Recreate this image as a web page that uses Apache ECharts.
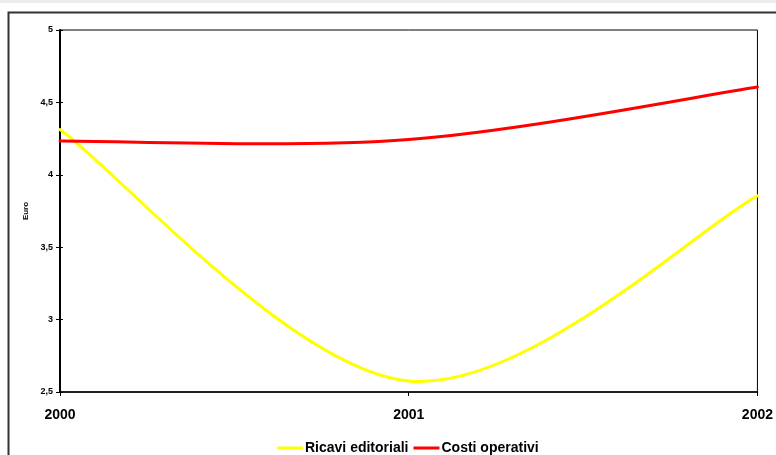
<!DOCTYPE html>
<html><head><meta charset="utf-8">
<script src="https://cdn.jsdelivr.net/npm/echarts@6/dist/echarts.min.js"></script>
<style>html,body{margin:0;padding:0;background:#fff}#c{width:776px;height:455px}</style>
</head><body><div id="c"></div>
<script>
const categories = ['2000', '2001', '2002'];
const ricaviEditoriali = [4.313, 2.576, 3.854];
const costiOperativi = [4.233, 4.244, 4.606];
const yTickLabels = ['2,5', '3', '3,5', '4', '4,5', '5'];

const chart = echarts.init(document.getElementById('c'), null, {renderer: 'canvas'});
const F = 'Liberation Sans, Arial, sans-serif';
function yFmt(v){ return String(+v.toFixed(1)).replace('.', ','); }

// Excel-style smoothed line (Catmull-Rom bezier), each segment drawn from data through api.coord
function smoothRenderer(color) {
  return function (params, api) {
    const n = params.dataInsideLength;
    const i = params.dataIndexInside;
    if (i >= n - 1) return null;
    const pt = (k) => { k = Math.max(0, Math.min(n - 1, k)); return api.coord([api.value(0, k), api.value(1, k)]); };
    const p0 = pt(i - 1), p1 = pt(i), p2 = pt(i + 1), p3 = pt(i + 2);
    return {
      type: 'bezierCurve',
      shape: {
        x1: p1[0], y1: p1[1], x2: p2[0], y2: p2[1],
        cpx1: p1[0] + (p2[0] - p0[0]) / 6, cpy1: p1[1] + (p2[1] - p0[1]) / 6,
        cpx2: p2[0] - (p3[0] - p1[0]) / 6, cpy2: p2[1] - (p3[1] - p1[1]) / 6
      },
      style: {stroke: color, lineWidth: 3, fill: null, lineCap: 'round'}
    };
  };
}
function toData(vals){ return vals.map((v, i) => [i, v]); }

chart.setOption({
  animation: false,
  backgroundColor: '#fff',
  graphic: [
    {type: 'rect', shape: {x: 0, y: 0, width: 776, height: 3}, style: {fill: '#ececec'}, silent: true},
    {type: 'polyline', shape: {points: [[8.5, 460], [8.5, 12.5], [780, 12.5]]}, style: {stroke: '#333', lineWidth: 2, fill: null}, silent: true}
  ],
  grid: {left: 60, top: 30, right: 13, bottom: 63, show: true, borderColor: '#000', borderWidth: 1, backgroundColor: 'transparent'},
  legend: {
    bottom: -5, left: 272, itemGap: 5, itemWidth: 26, itemHeight: 3, icon: 'rect',
    textStyle: {fontFamily: F, fontWeight: 'bold', fontSize: 14, color: '#000', padding: [0, 0, 0, -3]},
    data: ['Ricavi editoriali', 'Costi operativi']
  },
  xAxis: {
    type: 'category', data: categories, boundaryGap: false,
    axisLine: {lineStyle: {color: '#000', width: 1.5}},
    axisTick: {show: true, length: 4, lineStyle: {color: '#000'}},
    axisLabel: {fontFamily: F, fontWeight: 'bold', fontSize: 14, color: '#000', margin: 16},
    splitLine: {show: false}
  },
  yAxis: [{
    type: 'value', min: 2.5, max: 5, interval: 0.5,
    name: 'Euro', nameLocation: 'middle', nameGap: 25, nameRotate: 90,
    nameTextStyle: {fontFamily: F, fontWeight: 'bold', fontSize: 8, color: '#000'},
    axisLine: {show: true, lineStyle: {color: '#000', width: 2}},
    axisTick: {show: true, length: 4, lineStyle: {color: '#000'}},
    axisLabel: {fontFamily: F, fontWeight: 'bold', fontSize: 9, color: '#000', margin: 7, formatter: yFmt},
    splitLine: {show: false}
  }, {
    type: 'value', min: 2.5, max: 5, interval: 0.5, position: 'left',
    axisLine: {show: false},
    axisTick: {show: true, inside: true, length: 3, lineStyle: {color: '#000'}},
    axisLabel: {show: false}, splitLine: {show: false}
  }],
  series: [
    {name: 'Ricavi editoriali', type: 'custom', data: toData(ricaviEditoriali), encode: {x: 0, y: 1},
     clip: false, color: '#ffff00', itemStyle: {color: '#ffff00'}, renderItem: smoothRenderer('#ffff00')},
    {name: 'Costi operativi', type: 'custom', data: toData(costiOperativi), encode: {x: 0, y: 1},
     clip: false, color: '#ff0000', itemStyle: {color: '#ff0000'}, renderItem: smoothRenderer('#ff0000')}
  ]
});
</script></body></html>
